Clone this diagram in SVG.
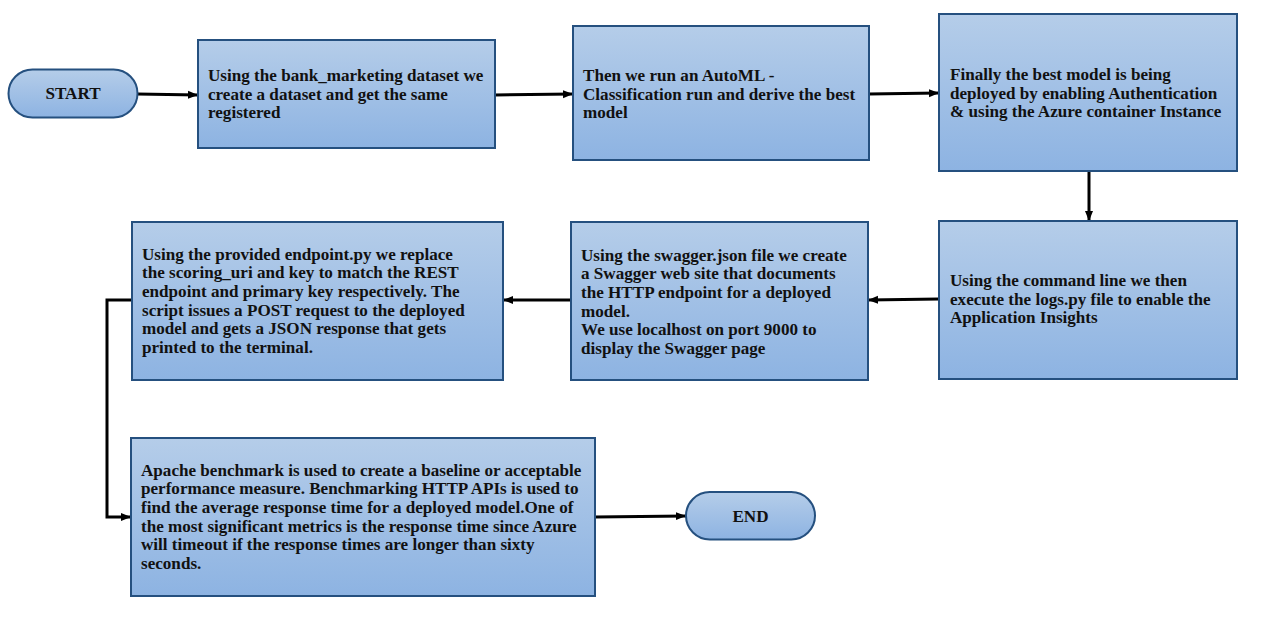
<svg xmlns="http://www.w3.org/2000/svg" width="1283" height="631" viewBox="0 0 1283 631">
<defs>
<linearGradient id="g" x1="0" y1="0" x2="0" y2="1">
<stop offset="0" stop-color="#b5cde9"/>
<stop offset="1" stop-color="#8db3e2"/>
</linearGradient>
<marker id="ah" markerUnits="userSpaceOnUse" markerWidth="10" markerHeight="10" viewBox="0 0 10 10" refX="10" refY="5" orient="auto">
<path d="M0,1 L10,5 L0,9 Z" fill="#000"/>
</marker>
<style>
.box{fill:url(#g);stroke:#25507f;stroke-width:2}
.t{font-family:"Liberation Serif","Times New Roman",serif;font-weight:bold;font-size:17.1px;fill:#111}
.c{text-anchor:middle}
.ln{fill:none;stroke:#000;stroke-width:3;marker-end:url(#ah)}
</style>
</defs>
<rect width="1283" height="631" fill="#fff"/>
<g id="connectors">
<path class="ln" d="M137,94 L198,95"/>
<path class="ln" d="M495,95 L573,94"/>
<path class="ln" d="M869,94 L939,93"/>
<path class="ln" d="M1089,171 L1089,221"/>
<path class="ln" d="M939,299 L868,300"/>
<path class="ln" d="M571,300 L503,300"/>
<path class="ln" d="M132,300 L107,300 L107,517 L131,517"/>
<path class="ln" d="M595,517 L686,516"/>
</g>
<g id="start">
<rect class="box" x="8.5" y="69.5" width="129" height="48" rx="24"/>
<text class="t c" x="73" y="99">START</text>
</g>
<g id="n1">
<rect class="box" x="198" y="40" width="297" height="108"/>
<text class="t" x="208" y="81">Using the bank_marketing dataset we</text>
<text class="t" x="208" y="99.5">create a dataset and get the same</text>
<text class="t" x="208" y="118">registered</text>
</g>
<g id="n2">
<rect class="box" x="573" y="26" width="296" height="134"/>
<text class="t" x="583" y="81">Then we run an AutoML -</text>
<text class="t" x="583" y="99.5">Classification run and derive the best</text>
<text class="t" x="583" y="118">model</text>
</g>
<g id="n3">
<rect class="box" x="939" y="14" width="298" height="157"/>
<text class="t" x="950" y="80">Finally the best model is being</text>
<text class="t" x="950" y="98.5">deployed by enabling Authentication</text>
<text class="t" x="950" y="117">&amp; using the Azure container Instance</text>
</g>
<g id="n4">
<rect class="box" x="939" y="221" width="298" height="158"/>
<text class="t" x="950" y="286">Using the command line we then</text>
<text class="t" x="950" y="304.7">execute the logs.py file to enable the</text>
<text class="t" x="950" y="323.4">Application Insights</text>
</g>
<g id="n5">
<rect class="box" x="571" y="222" width="297" height="158"/>
<text class="t" x="581" y="260.5">Using the swagger.json file we create</text>
<text class="t" x="581" y="279.2">a Swagger web site that documents</text>
<text class="t" x="581" y="297.9">the HTTP endpoint for a deployed</text>
<text class="t" x="581" y="316.6">model.</text>
<text class="t" x="581" y="335.3">We use localhost on port 9000 to</text>
<text class="t" x="581" y="354">display the Swagger page</text>
</g>
<g id="n6">
<rect class="box" x="132" y="222" width="371" height="158"/>
<text class="t" x="142" y="259.5">Using the provided endpoint.py we replace</text>
<text class="t" x="142" y="278.2">the scoring_uri and key to match the REST</text>
<text class="t" x="142" y="296.9">endpoint and primary key respectively. The</text>
<text class="t" x="142" y="315.6">script issues a POST request to the deployed</text>
<text class="t" x="142" y="334.3">model and gets a JSON response that gets</text>
<text class="t" x="142" y="353">printed to the terminal.</text>
</g>
<g id="n7">
<rect class="box" x="131" y="438" width="464" height="158"/>
<text class="t" x="141" y="475.5">Apache benchmark is used to create a baseline or acceptable</text>
<text class="t" x="141" y="494.2">performance measure. Benchmarking HTTP APIs is used to</text>
<text class="t" x="141" y="512.9">find the average response time for a deployed model.One of</text>
<text class="t" x="141" y="531.6">the most significant metrics is the response time since Azure</text>
<text class="t" x="141" y="550.3">will timeout if the response times are longer than sixty</text>
<text class="t" x="141" y="569">seconds.</text>
</g>
<g id="end">
<rect class="box" x="686" y="492" width="129" height="47.5" rx="23.75"/>
<text class="t c" x="750.5" y="521.5">END</text>
</g>
</svg>
